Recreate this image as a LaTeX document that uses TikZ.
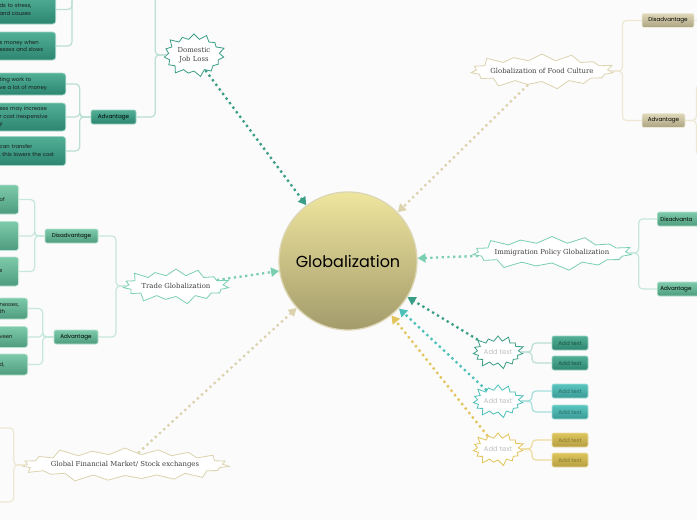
\documentclass[tikz,border=0pt]{standalone}
\usepackage{fontspec}
\setmainfont{Poppins}
\newfontfamily\burstfont{DejaVu Serif}
\usepackage{xcolor}
\usetikzlibrary{shapes.symbols, arrows.meta, positioning}

\definecolor{pagebg}{HTML}{FBFBFB}
\definecolor{globetop}{HTML}{EEE59E}
\definecolor{globebot}{HTML}{A39B6B}
\definecolor{globeline}{HTML}{DDD6B4}
\definecolor{jobline}{HTML}{3A9E86}
\definecolor{jobtop}{HTML}{52B096}
\definecolor{jobbot}{HTML}{2C8570}
\definecolor{jobbranch}{HTML}{BCDFD5}
\definecolor{mintline}{HTML}{7ACFB0}
\definecolor{minttop}{HTML}{7DCBAB}
\definecolor{mintbot}{HTML}{4E9B7F}
\definecolor{mintbranch}{HTML}{C6E8DA}
\definecolor{sandline}{HTML}{DCD3AE}
\definecolor{sandtop}{HTML}{DFD8B8}
\definecolor{sandbot}{HTML}{ABA281}
\definecolor{sandbranch}{HTML}{EDE7D3}
\definecolor{aqualine}{HTML}{4CC0B9}
\definecolor{aquatop}{HTML}{5AC5BF}
\definecolor{aquabot}{HTML}{3A9A95}
\definecolor{aquabranch}{HTML}{A5DEDA}
\definecolor{goldline}{HTML}{E2C45A}
\definecolor{goldtop}{HTML}{DEC55C}
\definecolor{goldbot}{HTML}{B49E42}
\definecolor{goldbranch}{HTML}{EEDC9E}

\begin{document}
\begin{tikzpicture}[x=1pt, y=-1pt,
    hub/.style={circle, draw=globeline, line width=1.3pt, top color=globetop, bottom color=globebot, minimum size=138pt, font=\fontsize{16}{19}\selectfont},
    burst/.style={starburst, starburst points=15, starburst point height=7pt, draw=#1, line width=0.8pt, fill=white, inner sep=0pt, align=center, text=black!75, font=\burstfont\fontsize{6.9}{9}\selectfont},
    wideburst/.style={burst=#1, inner xsep=-5pt, starburst point height=9pt},
    addburst/.style={burst=#1, text=black!25, font=\fontsize{6.8}{8}\selectfont},
    sub/.style 2 args={rectangle, rounded corners=2pt, draw=#1!55!white, line width=0.7pt, top color=#1, bottom color=#2, minimum height=14pt, inner sep=1pt, font=\fontsize{5.6}{7}\selectfont},
    leaf/.style 2 args={rectangle, rounded corners=3pt, draw=#1!55!white, line width=0.7pt, top color=#1, bottom color=#2, anchor=east, align=left, inner sep=3pt, text=black!90, font=\fontsize{5.3}{7.6}\selectfont},
    branch/.style={draw=#1, line width=1.2pt, rounded corners=4pt},
    link/.style={draw=#1, line width=2.3pt, dash pattern=on 2.3pt off 3.4pt, -{Triangle[length=8pt, width=9pt]}}
]

%% ── Page ─────────────────────────────────────────────────────────────
\fill[pagebg] (0,0) rectangle (697,520);
\useasboundingbox (0,0) rectangle (697,520);

%% ── Centre ───────────────────────────────────────────────────────────
\node[hub] (globe) at (348,261) {Globalization};

%% ── Topics round the centre ──────────────────────────────────────────
\node[burst=jobline, minimum width=65pt, minimum height=46pt] (job) at (194,55) {Domestic\\Job Loss};
\node[wideburst=sandline, minimum height=39pt] (food)  at (542,71)  {Globalization of Food Culture};
\node[wideburst=mintline, minimum height=39pt, inner xsep=-1pt] (trade) at (176,286) {Trade Globalization};
\node[wideburst=mintline, minimum height=38pt] (immig) at (552,253) {Immigration Policy Globalization};
\node[wideburst=sandline, minimum height=39pt, starburst points=19] (stock) at (125,465) {Global Financial Market/ Stock exchanges};
\node[addburst=jobline,  minimum width=55pt, minimum height=36pt] (addA) at (498,352) {Add text};
\node[addburst=aqualine, minimum width=55pt, minimum height=36pt] (addB) at (498,401) {Add text};
\node[addburst=goldline, minimum width=55pt, minimum height=36pt] (addC) at (498,449) {Add text};

%% ── Dotted links into the centre ─────────────────────────────────────
\draw[link=jobline]   (job)   -- (globe);
\draw[link=sandline]  (food)  -- (globe);
\draw[link=mintline]  (trade) -- (globe);
\draw[link=mintline]  (immig) -- (globe);
\draw[link=sandline]  (stock) -- (globe);
\draw[link=jobline]   (addA)  -- (globe);
\draw[link=aqualine]  (addB)  -- (globe);
\draw[link=goldline]  (addC)  -- (globe);

%% ── Domestic Job Loss ────────────────────────────────────────────────
\node[sub={jobtop}{jobbot}, minimum width=45pt] (jobadv) at (113.5,117) {Advantage};
\coordinate (jobdisR) at (136,-15);
\coordinate (jobdisL) at (83,-15);

\node[leaf={jobtop}{jobbot}, text width=53pt, minimum height=29pt] (stressL) at (56,9.5) {ds to stress,\\and causes};
\node[leaf={jobtop}{jobbot}, text width=53pt, minimum height=28pt] (moneyL)  at (56,46)  {s money when\\esses and slows};
\node[leaf={jobtop}{jobbot}, text width=63pt, minimum height=22pt] (saveL)   at (66,84)  {ting work to\\ve a lot of money};
\node[leaf={jobtop}{jobbot}, text width=63pt, minimum height=28pt] (cheapL)  at (66,117) {ses may increase\\r cost inexpensive\\y};
\node[leaf={jobtop}{jobbot}, text width=63pt, minimum height=29pt] (moveL)   at (66,151) {can transfer\\, this lowers the cost};

\draw[branch=jobbranch] (job.west) -- ++(-11,0) |- (jobadv.east);
\draw[branch=jobbranch] (job.west) -- ++(-11,0) |- (jobdisR);
\draw[branch=jobbranch] (jobdisL) -- ++(-11,0) |- (stressL.east);
\draw[branch=jobbranch] (jobdisL) -- ++(-11,0) |- (moneyL.east);
\draw[branch=jobbranch] (jobadv.west) -- ++(-11,0) |- (saveL.east);
\draw[branch=jobbranch] (jobadv.west) -- ++(-11,0) |- (cheapL.east);
\draw[branch=jobbranch] (jobadv.west) -- ++(-11,0) |- (moveL.east);

%% ── Trade Globalization ──────────────────────────────────────────────
\node[sub={minttop}{mintbot}, minimum width=53pt] (tradedis) at (71.5,236) {Disadvantage};
\node[sub={minttop}{mintbot}, minimum width=44pt] (tradeadv) at (76,337)   {Advantage};

\node[leaf={minttop}{mintbot}, text width=16pt, minimum height=29pt] (tdisA) at (19,199.5) {of};
\node[leaf={minttop}{mintbot}, text width=16pt, minimum height=29pt] (tdisB) at (19,236)   {};
\node[leaf={minttop}{mintbot}, text width=16pt, minimum height=29pt] (tdisC) at (19,271.5) {s};
\node[leaf={minttop}{mintbot}, text width=25pt, minimum height=21pt] (tadvA) at (28,308.5) {nesses,\\th};
\node[leaf={minttop}{mintbot}, text width=25pt, minimum height=21pt] (tadvB) at (28,337)   {veen};
\node[leaf={minttop}{mintbot}, text width=25pt, minimum height=21pt] (tadvC) at (28,364.5) {d,};

\draw[branch=mintbranch] (trade.west) -- ++(-10,0) |- (tradedis.east);
\draw[branch=mintbranch] (trade.west) -- ++(-10,0) |- (tradeadv.east);
\foreach \k in {tdisA,tdisB,tdisC}
  \draw[branch=mintbranch] (tradedis.west) -- ++(-10,0) |- (\k.east);
\foreach \k in {tadvA,tadvB,tadvC}
  \draw[branch=mintbranch] (tradeadv.west) -- ++(-11,0) |- (\k.east);

%% ── Global Financial Market ──────────────────────────────────────────
\coordinate (stockup) at (-10,428);
\coordinate (stockdn) at (-10,502);
\draw[branch=sandbranch] (stock.west) -- ++(-11,0) |- (stockup);
\draw[branch=sandbranch] (stock.west) -- ++(-11,0) |- (stockdn);

%% ── Food Culture ─────────────────────────────────────────────────────
\node[sub={sandtop}{sandbot}, minimum width=52pt] (fooddis) at (668,20.5)   {Disadvantage};
\node[sub={sandtop}{sandbot}, minimum width=43pt] (foodadv) at (663.5,120.5) {Advantage};
\coordinate (foodup) at (720,85);
\coordinate (fooddn) at (720,155);

\draw[branch=sandbranch] (food.east) -- ++(12,0) |- (fooddis.west);
\draw[branch=sandbranch] (food.east) -- ++(12,0) |- (foodadv.west);
\draw[branch=sandbranch] (fooddis.east) -- ++(12,0);
\draw[branch=sandbranch] (foodadv.east) -- ++(11,0) |- (foodup);
\draw[branch=sandbranch] (foodadv.east) -- ++(11,0) |- (fooddn);

%% ── Immigration Policy ───────────────────────────────────────────────
\node[sub={minttop}{mintbot}, anchor=west, text width=46pt, align=left, inner sep=3pt, minimum height=14pt] (immdis) at (657,219) {Disadvanta};
\node[sub={minttop}{mintbot}, anchor=west, text width=46pt, align=left, inner sep=3pt, minimum height=14pt] (immadv) at (657,289) {Advantage};

\draw[branch=mintbranch] (immig.east) -- ++(10,0) |- (immdis.west);
\draw[branch=mintbranch] (immig.east) -- ++(10,0) |- (immadv.west);

%% ── Add text groups ──────────────────────────────────────────────────
\node[sub={jobtop}{jobbot}, minimum width=36pt, text=jobbot!60!black] (addA1) at (570,343) {Add text};
\node[sub={jobtop}{jobbot}, minimum width=36pt, text=jobbot!60!black] (addA2) at (570,363) {Add text};
\node[sub={aquatop}{aquabot}, minimum width=36pt, text=aquabot!70!black] (addB1) at (570,391) {Add text};
\node[sub={aquatop}{aquabot}, minimum width=36pt, text=aquabot!70!black] (addB2) at (570,412) {Add text};
\node[sub={goldtop}{goldbot}, minimum width=36pt, text=goldbot!75!black] (addC1) at (570,440) {Add text};
\node[sub={goldtop}{goldbot}, minimum width=36pt, text=goldbot!75!black] (addC2) at (570,460) {Add text};

\draw[branch=jobbranch]  (addA.east) -- ++(11,0) |- (addA1.west);
\draw[branch=jobbranch]  (addA.east) -- ++(11,0) |- (addA2.west);
\draw[branch=aquabranch] (addB.east) -- ++(11,0) |- (addB1.west);
\draw[branch=aquabranch] (addB.east) -- ++(11,0) |- (addB2.west);
\draw[branch=goldbranch] (addC.east) -- ++(11,0) |- (addC1.west);
\draw[branch=goldbranch] (addC.east) -- ++(11,0) |- (addC2.west);

\end{tikzpicture}
\end{document}
